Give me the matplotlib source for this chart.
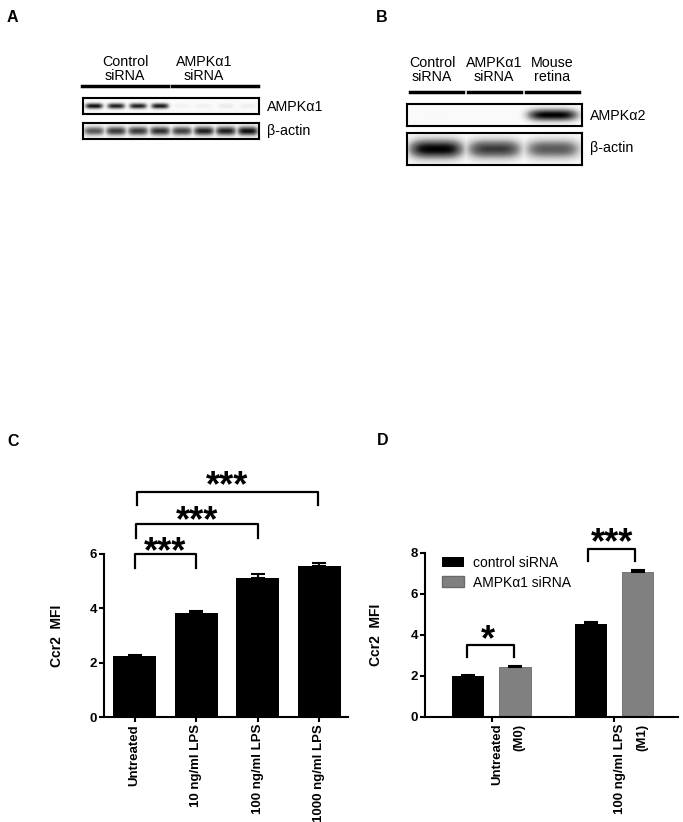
import numpy as np
import matplotlib
matplotlib.use('Agg')
import matplotlib.pyplot as plt
from matplotlib.patches import Patch
from matplotlib.lines import Line2D
from matplotlib.transforms import ScaledTranslation

plt.rcParams['font.family'] = ['Liberation Sans', 'DejaVu Sans']

# ---- data -------------------------------------------------------------
# panel A blot: band intensity per lane (0 = none, 1 = saturated)
A_GROUPS = ['Control\nsiRNA', 'AMPKα1\nsiRNA']
A_AMPKA1 = [0.95, 0.9, 0.9, 0.92, 0.1, 0.12, 0.16, 0.14]
A_ACTIN = [0.72, 0.82, 0.82, 0.85, 0.8, 0.9, 0.9, 0.95]

# panel B blot
B_GROUPS = ['Control\nsiRNA', 'AMPKα1\nsiRNA', 'Mouse\nretina']
B_AMPKA2 = [0.05, 0.04, 1.0]
B_ACTIN = [1.0, 0.82, 0.72]

# panel C: Ccr2 MFI vs LPS dose
C_LABELS = ['Untreated', '10 ng/ml LPS', '100 ng/ml LPS', '1000 ng/ml LPS']
C_MEANS = [2.25, 3.83, 5.12, 5.56]
C_SEM = [0.02, 0.06, 0.14, 0.10]

# panel D: control vs AMPKa1 siRNA
D_LABELS = ['Untreated\n(M0)', '100 ng/ml LPS\n(M1)']
D_CTRL = [2.0, 4.53]
D_CTRL_SEM = [0.03, 0.07]
D_KD = [2.42, 7.04]
D_KD_SEM = [0.03, 0.13]

W, H = 683, 822
fig = plt.figure(figsize=(W / 100, H / 100), dpi=100)


def px_axes(x0, y0, x1, y1):
    return fig.add_axes([x0 / W, 1 - y1 / H, (x1 - x0) / W, (y1 - y0) / H])


def fx(x):
    return x / W


def fy(y):
    return 1 - y / H


def draw_blot(box, lanes, band_h, lane_fill=0.85, bg=0.04):
    ax = px_axes(*box)
    n = len(lanes)
    xs = np.linspace(0, n, 400)
    ys = np.linspace(-0.5, 0.5, 80)
    X, Y = np.meshgrid(xs, ys)
    img = np.full_like(X, bg)
    for i, v in enumerate(lanes):
        prof = np.exp(-np.abs((X - i - 0.5) / (lane_fill / 2)) ** 4 - (Y / band_h) ** 2)
        img = np.maximum(img, v * prof)
    ax.imshow(img, cmap='Greys', vmin=0, vmax=1, aspect='auto',
              extent=(0, n, 0.5, -0.5), interpolation='bilinear')
    ax.set_xticks([])
    ax.set_yticks([])
    for s in ax.spines.values():
        s.set_linewidth(1.5)
    return ax


def hline(x0, x1, y, lw=2.5):
    fig.add_artist(Line2D([fx(x0), fx(x1)], [fy(y), fy(y)], color='black', lw=lw))


def bracket(ax, x1, x2, y, drop, text, ty, fs, tx=None):
    ax.plot([x1, x1, x2, x2], [drop, y, y, drop], color='black', lw=1.6, clip_on=False)
    off = ScaledTranslation(0, -fs * 0.56 / 72, fig.dpi_scale_trans)
    if tx is None:
        tx = (x1 + x2) / 2
    ax.text(tx, ty, text, ha='center', va='baseline', fontsize=fs,
            fontweight='bold', transform=ax.transData + off)


def style_axes(ax):
    for side in ['top', 'right']:
        ax.spines[side].set_visible(False)
    for side in ['left', 'bottom']:
        ax.spines[side].set_linewidth(1.5)
    ax.tick_params(direction='out', length=3.5, width=1.5, labelsize=9.5, pad=1.5)
    for lbl in ax.get_xticklabels() + ax.get_yticklabels():
        lbl.set_fontweight('bold')


# ---- panel letters ----------------------------------------------------
for letter, (x, y) in zip('ABCD', [(12, 17), (382, 17), (13, 441), (383, 440)]):
    fig.text(fx(x), fy(y), letter, fontsize=11.5, fontweight='bold', ha='center', va='center')

# ---- panel A ----------------------------------------------------------
draw_blot((83, 98, 259, 114), A_AMPKA1, band_h=0.2)
draw_blot((83, 123, 259, 139), A_ACTIN, band_h=0.32, lane_fill=1.0)
for lbl, cx, (x0, x1) in zip(A_GROUPS, [125, 204], [(82, 168), (172, 258)]):
    fig.text(fx(cx), fy(69), lbl, ha='center', va='center', fontsize=10.3, linespacing=0.95)
    hline(x0, x1, 86)
fig.text(fx(267), fy(107), 'AMPKα1', ha='left', va='center', fontsize=10.3)
fig.text(fx(267), fy(131), 'β-actin', ha='left', va='center', fontsize=10.3)

# ---- panel B ----------------------------------------------------------
draw_blot((407, 104, 582, 126), B_AMPKA2, band_h=0.3, lane_fill=0.9)
draw_blot((407, 133, 582, 165), B_ACTIN, band_h=0.33, lane_fill=0.98)
for lbl, cx, (x0, x1) in zip(B_GROUPS, [432, 494, 552], [(410, 463), (468, 521), (526, 579)]):
    fig.text(fx(cx), fy(70), lbl, ha='center', va='center', fontsize=10.3, linespacing=0.95)
    hline(x0, x1, 92)
fig.text(fx(590), fy(116), 'AMPKα2', ha='left', va='center', fontsize=10.3)
fig.text(fx(590), fy(148), 'β-actin', ha='left', va='center', fontsize=10.3)

# ---- panel C ----------------------------------------------------------
axC = px_axes(104, 554, 348, 717)
xc = np.arange(len(C_MEANS))
axC.bar(xc, C_MEANS, width=0.7, color='black',
        yerr=[np.zeros(len(C_SEM)), C_SEM], capsize=5,
        error_kw=dict(ecolor='black', elinewidth=1.5, capthick=1.5))
axC.set_xlim(-0.496, 3.47)
axC.set_ylim(0, 6)
axC.set_yticks([0, 2, 4, 6])
axC.set_xticks(xc)
axC.set_xticklabels(C_LABELS, rotation=90, ha='center', va='top')
axC.set_ylabel('Ccr2  MFI', fontsize=10, fontweight='bold')
axC.yaxis.set_label_coords(-0.164, 0.5)
style_axes(axC)
bracket(axC, 0.0, 1.0, 6.0, 5.48, '***', 6.43, 26)
bracket(axC, 0.02, 2.0, 7.1, 6.6, '***', 7.57, 26)
bracket(axC, 0.04, 2.98, 8.28, 7.8, '***', 8.86, 26)

# ---- panel D ----------------------------------------------------------
axD = px_axes(425, 552.7, 678, 716.7)
xd = np.arange(len(D_CTRL))
axD.bar(xd - 0.19, D_CTRL, width=0.26, color='black',
        yerr=[np.zeros(2), D_CTRL_SEM], capsize=5,
        error_kw=dict(ecolor='black', elinewidth=1.5, capthick=1.5))
axD.bar(xd + 0.19, D_KD, width=0.26, color='#808080', edgecolor='#6a6a6a', linewidth=0.6,
        yerr=[np.zeros(2), D_KD_SEM], capsize=5,
        error_kw=dict(ecolor='black', elinewidth=1.5, capthick=1.5))
axD.set_xlim(-0.543, 1.52)
axD.set_ylim(0, 8)
axD.set_yticks([0, 2, 4, 6, 8])
axD.set_xticks(xd)
axD.set_xticklabels(D_LABELS, rotation=90, ha='left', va='top',
                    multialignment='right', linespacing=2.1)
for lbl in axD.get_xticklabels():
    lbl.set_transform(lbl.get_transform() + ScaledTranslation(-5.5 / 100, 0, fig.dpi_scale_trans))
axD.set_ylabel('Ccr2  MFI', fontsize=10, fontweight='bold')
axD.yaxis.set_label_coords(-0.166, 0.5)
style_axes(axD)
bracket(axD, -0.2, 0.186, 3.48, 2.9, '*', 4.23, 26, tx=-0.03)
bracket(axD, 0.79, 1.17, 8.16, 7.6, '***', 8.96, 26, tx=0.98)
axD.legend(handles=[Patch(facecolor='black', label='control siRNA'),
                    Patch(facecolor='#808080', edgecolor='#6a6a6a', label='AMPKα1 siRNA')],
           loc='upper left', bbox_to_anchor=(fx(442), fy(556)), bbox_transform=fig.transFigure,
           frameon=False, fontsize=10, handlelength=1.6, handleheight=0.8,
           handletextpad=0.6, labelspacing=0.4, borderaxespad=0, borderpad=0)

fig.savefig('out.png', dpi=100)
